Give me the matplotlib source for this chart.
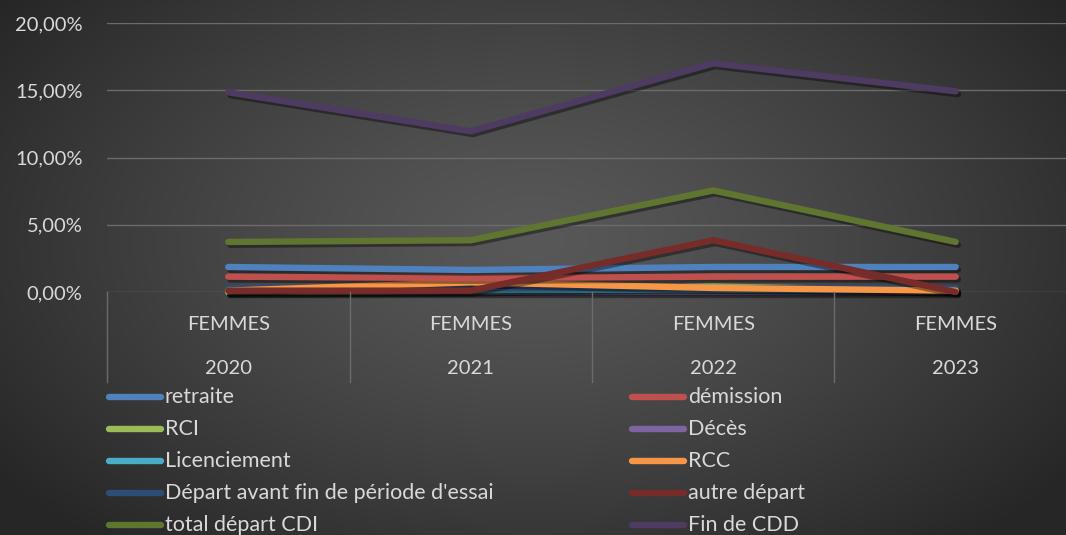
import matplotlib.pyplot as plt
import matplotlib.patheffects as pe
import numpy as np
from matplotlib.lines import Line2D

plt.rcParams['font.family'] = ['Lato', 'DejaVu Sans']

# data (rates, in %)
years = ['2020', '2021', '2022', '2023']
genre = 'FEMMES'
series = ['retraite', 'démission', 'RCI', 'Décès', 'Licenciement', 'RCC',
          "Départ avant fin de période d'essai", 'autre départ',
          'total départ CDI', 'Fin de CDD']
retraite = [1.86, 1.64, 1.86, 1.86]
demission = [1.14, 1.04, 1.14, 1.14]
rci = [0.0, 0.1, 0.4, 0.1]
deces = [0.0, 0.0, 0.0, 0.0]
licenciement = [0.15, 0.15, 0.15, 0.15]
rcc = [0.1, 0.72, 0.3, 0.1]
depart_essai = [0.28, 0.28, 0.28, 0.28]
autre_depart = [0.1, 0.1, 3.85, 0.0]
total_cdi = [3.72, 3.85, 7.55, 3.72]
fin_cdd = [14.85, 11.95, 17.0, 14.92]

values = [retraite, demission, rci, deces, licenciement, rcc,
          depart_essai, autre_depart, total_cdi, fin_cdd]
colors = ['#4F81BD', '#C0504D', '#9BBB59', '#8064A2', '#4BACC6', '#F79646',
          '#2C4D75', '#772C2A', '#5F7530', '#4D3B62']
# drawing order (back to front)
order = [9, 8, 3, 2, 4, 6, 5, 1, 0, 7]

txt = '#d9d9d9'
fs = 14.5
W, H = 1066, 535
fig = plt.figure(figsize=(W / 100, H / 100), dpi=100)

# radial gradient background
bg = fig.add_axes([0, 0, 1, 1], zorder=-10)
yy, xx = np.mgrid[0:H, 0:W]
r = np.sqrt(((xx - W * 0.5) / (W * 0.62)) ** 2 + ((yy - H * 0.45) / (H * 0.75)) ** 2)
r = np.clip(r, 0, 1)
shade = 0.345 - (0.345 - 0.15) * r ** 1.3
bg.imshow(np.dstack([shade] * 3), aspect='auto', extent=[0, 1, 0, 1], origin='upper')
bg.axis('off')

x0, x1 = 107 / W, 1077 / W
yb, yt = (H - 292) / H, (H - 23) / H
ax = fig.add_axes([x0, yb, x1 - x0, yt - yb])
ax.set_facecolor('none')

x = np.arange(len(years))
for i in order:
    ax.plot(x, np.array(values[i]) / 100, color=colors[i], lw=4.6,
            solid_capstyle='round', solid_joinstyle='round', clip_on=False,
            path_effects=[pe.SimpleLineShadow(offset=(1.5, -2), alpha=0.4, shadow_color='black'),
                          pe.Normal()])

ax.set_xlim(-0.5, 3.5)
ax.set_ylim(0, 0.2)
ax.set_yticks(np.arange(0, 0.201, 0.05))
ax.set_yticklabels([f'{v:.2f}%'.replace('.', ',') for v in np.arange(0, 20.01, 5)])
ax.tick_params(axis='y', length=0, pad=17.5, labelsize=fs, labelcolor=txt)
ax.set_xticks([])
ax.grid(axis='y', color='#6b6b6b', lw=1)
ax.set_axisbelow(True)
for s in ax.spines.values():
    s.set_visible(False)

# two-level category axis
for i, yr in enumerate(years):
    xf = x0 + (i + 0.5) / 4 * (x1 - x0)
    fig.text(xf, (H - 325) / H, genre, ha='center', va='center', color=txt, fontsize=fs)
    fig.text(xf, (H - 369) / H, yr, ha='center', va='center', color=txt, fontsize=fs)
for i in range(4):
    xf = x0 + i / 4 * (x1 - x0)
    fig.add_artist(Line2D([xf, xf], [yb, (H - 382) / H], color='#6b6b6b', lw=1))

# legend, two columns filled row by row
rows_y = [397, 429, 461, 493, 525]
for col, xs in enumerate([106, 629]):
    for r_i, yv in enumerate(rows_y):
        k = r_i * 2 + col
        yf = (H - yv) / H
        fig.add_artist(Line2D([(xs + 3) / W, (xs + 55) / W], [yf, yf], color=colors[k],
                              lw=4.6, solid_capstyle='round'))
        fig.text((xs + 59) / W, yf, series[k], ha='left', va='center', color=txt, fontsize=15.5)

fig.savefig('out.png', dpi=100)
